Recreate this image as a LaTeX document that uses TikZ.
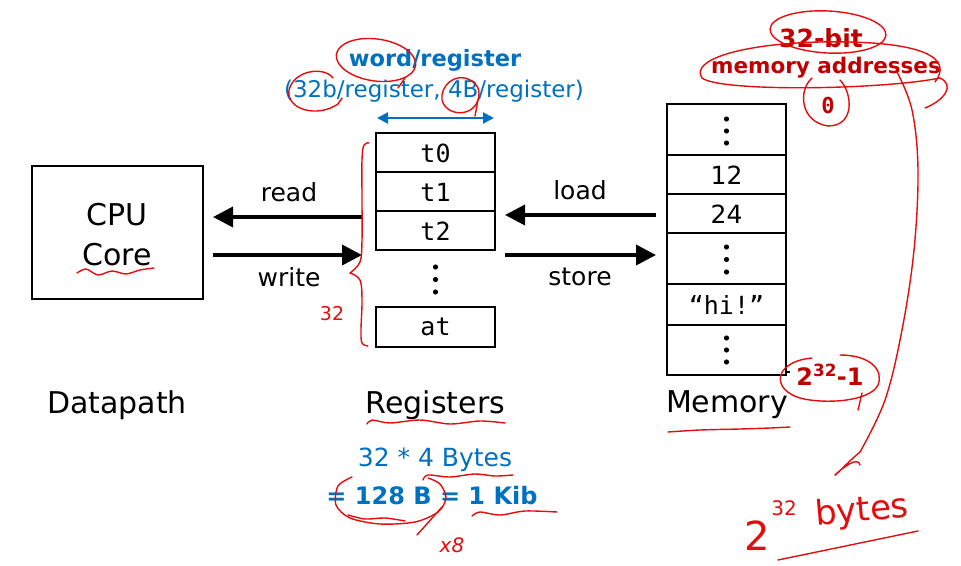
\documentclass[tikz,border=0pt]{standalone}
\usepackage{fontspec}
\setmainfont{DejaVu Sans}
\setmonofont{DejaVu Sans Mono}
\usetikzlibrary{arrows.meta}
\definecolor{offblue}{RGB}{0,112,192}
\definecolor{darkred}{RGB}{192,0,0}
\definecolor{penred}{RGB}{228,12,12}
\newcommand\fsz[1]{\fontsize{#1}{#1}\selectfont}
\begin{document}
\begin{tikzpicture}[x=1pt,y=-1pt,
  box/.style={draw=black, line width=1.5pt, inner sep=0pt},
  cell/.style={box, minimum width=119pt},
  bigarrow/.style={line width=3.6pt, -{Triangle[length=20pt,width=20pt]}},
  lbl/.style={font=\fsz{25}, inner sep=0pt},
  big/.style={font=\fsz{30}, inner sep=0pt},
  mono/.style={font=\fsz{25}\ttfamily, inner sep=0pt},
  pen/.style={draw=penred, line width=1.4pt, line cap=round, line join=round},
  dot/.style={fill=black}
]
\useasboundingbox (0,0) rectangle (961,565);

% CPU
\node[box, minimum width=171pt, minimum height=133pt] (cpu) at (117.5,232.5) {};
\node[big] (cpuA) at (117,215) {CPU};
\node[big] (cpuB) at (117,255) {Core};
\node[big] (dp) at (117,405) {Datapath};

% Registers
\node[cell, minimum height=39pt] (t0) at (435.5,152.5) {};
\node[cell, minimum height=39pt] (t1) at (435.5,191.5) {};
\node[cell, minimum height=39pt] (t2) at (435.5,230.5) {};
\node[cell, minimum height=40pt] (at) at (435.5,327) {};
\node[mono] (t0t) at (435.5,153) {t0};
\node[mono] (t1t) at (435.5,192) {t1};
\node[mono] (t2t) at (435.5,231) {t2};
\node[mono] (att) at (435.5,327) {at};
\fill (435.5,267) circle (2.6pt) (435.5,279.5) circle (2.6pt) (435.5,292) circle (2.6pt);
\node[big] (regs) at (435.5,405) {Registers};

% Memory
\node[cell, minimum height=51pt] (m1) at (726.5,129.5) {};
\node[cell, minimum height=39pt] (m2) at (726.5,174.5) {};
\node[cell, minimum height=39pt] (m3) at (726.5,213.5) {};
\node[cell, minimum height=51pt] (m4) at (726.5,258.5) {};
\node[cell, minimum height=41pt] (m5) at (726.5,304.5) {};
\node[cell, minimum height=50pt] (m6) at (726.5,350) {};
\fill (726.5,119) circle (2.6pt) (726.5,131) circle (2.6pt) (726.5,143) circle (2.6pt);
\fill (726.5,247) circle (2.6pt) (726.5,259.5) circle (2.6pt) (726.5,272) circle (2.6pt);
\fill (726.5,338) circle (2.6pt) (726.5,350) circle (2.6pt) (726.5,362) circle (2.6pt);
\node[lbl] (m2t) at (726.5,175) {12};
\node[lbl] (m3t) at (726.5,214) {24};
\node[mono] (m5t) at (726.5,305) {“hi!”};
\node[big] (mem) at (727,405) {Memory};

% arrows
\coordinate (rdS) at (362,217);
\coordinate (rdE) at (213,217);
\coordinate (wrS) at (213,255);
\coordinate (wrE) at (362,255);
\coordinate (ldS) at (656,215);
\coordinate (ldE) at (505,215);
\coordinate (stS) at (505,255);
\coordinate (stE) at (656,255);
\draw[bigarrow] (rdS) -- (rdE);
\draw[bigarrow] (wrS) -- (wrE);
\draw[bigarrow] (ldS) -- (ldE);
\draw[bigarrow] (stS) -- (stE);
\node[lbl] (rdL) at (289,192) {read};
\node[lbl] (wrL) at (289,277) {write};
\node[lbl] (ldL) at (580,190) {load};
\node[lbl] (stL) at (580,277) {store};

% width arrow and labels
\coordinate (wa) at (377,118);
\coordinate (wb) at (494,118);
\draw[offblue, line width=2.2pt, {Triangle[length=11pt,width=11pt]}-{Triangle[length=11pt,width=11pt]}] (wa) -- (wb);
\node[font=\fsz{22.5}\bfseries, text=offblue, inner sep=0pt] (wr) at (435,60) {word/register};
\node[font=\fsz{23}, text=offblue, inner sep=0pt] (wr2) at (434,91) {(32b/register, 4B/register)};
\node[font=\fsz{25}, text=offblue, inner sep=0pt] (calc1) at (435,460) {32 * 4 Bytes};
\node[font=\fsz{24}\bfseries, text=offblue, inner sep=0pt] (calc2) at (432,496) {= 128 B = 1 Kib};

% memory address labels
\node[font=\fsz{25}\bfseries, text=darkred, inner sep=0pt] (ab) at (821,38) {32-bit};
\node[font=\fsz{21.5}\bfseries, text=darkred, inner sep=0pt] (ma) at (826,68) {memory addresses};
\node[font=\fsz{22}\ttfamily\bfseries, text=darkred, inner sep=0pt] (zero) at (828,105) {0};
\node[font=\fsz{24}\bfseries, text=darkred, inner sep=0pt] (top) at (830,375) {2\textsuperscript{32}-1};
\draw[line width=1.3pt] (786,362) -- (786,372) -- (790,372);

% ---- handwritten red annotations ----
\draw[pen, rotate around={-8:(376,60)}] (376,60) ellipse (40pt and 21pt);
\draw[pen] (405,78) -- (398,88);
\draw[pen] (333,78) .. controls (324,66) and (294,70) .. (289,90) .. controls (286,110) and (318,118) .. (338,104);
\draw[pen] (338,104) -- (342,98);
\draw[pen] (470,80) .. controls (455,72) and (440,86) .. (442,100) .. controls (446,116) and (472,118) .. (478,100) .. controls (481,90) and (477,83) .. (470,80);
\draw[pen] (478,100) -- (475,116);
% brace
\draw[pen] plot[smooth, tension=0.6] coordinates {(369,143) (364,145) (362,160) (362,200) (362,240) (360,262) (350,273)};
\draw[pen] plot[smooth, tension=0.6] coordinates {(350,273) (360,280) (362,300) (361,330) (362,343) (368,346)};
\node[text=penred, font=\fsz{19}, inner sep=0pt] (n32) at (332,314) {32};
% underlines
\draw[pen] plot[smooth] coordinates {(77,273) (86,269) (98,275) (112,271) (126,274) (140,270) (154,268)};
\draw[pen] plot[smooth] coordinates {(367,424) (372,420) (390,423) (420,420) (450,424) (480,421) (505,423)};
\draw[pen] plot[smooth] coordinates {(668,432) (700,430) (740,429) (770,428) (790,427)};
\draw[pen] plot[smooth] coordinates {(423,480) (428,475) (450,477) (475,474) (495,476) (513,475)};
\draw[pen] plot[smooth] coordinates {(352,477) (338,486) (336,505) (350,518) (380,524) (415,522) (438,512) (446,498) (440,484) (428,478)};
\draw[pen] (442,507) -- (417,535);
\draw[pen] plot[smooth] coordinates {(348,515) (365,519) (385,518) (405,521)};
\draw[pen] plot[smooth] coordinates {(472,516) (480,512) (500,515) (525,511) (557,512)};
\node[text=penred, font=\fsz{20}\itshape, inner sep=0pt] (x8) at (452,545) {x8};
% memory side
\draw[pen, rotate around={-3:(828,32)}] (828,32) ellipse (58pt and 21pt);
\draw[pen] (935,82) .. controls (952,60) and (930,40) .. (820,42) .. controls (740,44) and (690,60) .. (702,78) .. controls (720,92) and (880,90) .. (940,78) .. controls (955,85) and (945,100) .. (925,108);
\draw[pen] (812,78) .. controls (798,90) and (800,122) .. (828,126) .. controls (856,126) and (852,92) .. (840,80);
\draw[pen] plot[smooth, tension=0.6] coordinates {(897,72) (912,110) (918,170) (914,250) (902,330) (885,400) (860,452)};
\draw[pen] (860,452) .. controls (850,460) and (833,478) .. (835,475) .. controls (840,470) and (858,455) .. (860,465);
\draw[pen] (812,358) .. controls (770,362) and (770,395) .. (810,400) .. controls (840,404) and (872,398) .. (878,385) .. controls (884,370) and (870,355) .. (840,355);
\draw[pen] (862,393) -- (858,410);
\node[text=penred, font=\fsz{40}, inner sep=0pt] (two) at (757,536) {2};
\node[text=penred, font=\fsz{20}, inner sep=0pt] (sup) at (784,508) {32};
\node[text=penred, font=\fsz{34}, rotate=5, inner sep=0pt] (bytes) at (862,512) {bytes};
\draw[pen] (778,560) -- (918,531);
\end{tikzpicture}
\end{document}
